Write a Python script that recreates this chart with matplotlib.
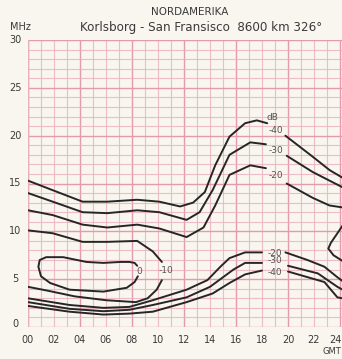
import numpy as np
import matplotlib
matplotlib.use("Agg")
import matplotlib.pyplot as plt
from matplotlib import ticker

# hours (GMT) / MHz; nan = gap where a label sits
upper_40_h = [0, 1.9, 4.2, 6.1, 8.4, 10.1, 11.7, 12.7, 13.6, 14.4, 15.5, 16.7, 17.6, 18.4, np.nan, 19.8, 21.9, 23.2, 24.2]
upper_40_f = [15.3, 14.3, 13.1, 13.1, 13.3, 13.1, 12.6, 13.0, 14.1, 16.9, 19.9, 21.3, 21.6, 21.3, np.nan, 20.0, 17.8, 16.4, 15.6]

upper_30_h = [0, 1.9, 4.2, 6.1, 8.4, 10.1, 12.2, 13.2, 14.2, 15.5, 17.1, 18.3, np.nan, 19.9, 21.9, 24.2]
upper_30_f = [14.0, 13.1, 12.0, 11.9, 12.2, 12.0, 11.2, 12.0, 14.3, 18.0, 19.3, 19.1, np.nan, 17.9, 16.2, 14.6]

upper_20_h = [0, 1.9, 4.2, 6.1, 8.4, 10.1, 12.2, 13.5, 14.4, 15.5, 17.1, 18.3, np.nan, 19.9, 21.9, 23.2, 24.2]
upper_20_f = [12.2, 11.7, 10.7, 10.4, 10.7, 10.3, 9.4, 10.4, 12.7, 15.9, 16.9, 16.6, np.nan, 15.0, 13.5, 12.7, 12.5]

minus10_h = [0, 1.9, 4.2, 6.1, 8.4, 9.6, 10.3, np.nan, 10.3, 9.9, 9.2, 8.3, 6.0, 3.6, 1.5, 0]
minus10_f = [10.1, 9.8, 8.9, 8.9, 9.0, 7.9, 6.8, np.nan, 4.9, 3.9, 3.0, 2.6, 2.8, 3.2, 3.8, 4.2]

zero_h = [8.4, 8.2, 7.8, 7.1, 5.8, 4.5, 2.7, 1.4, 0.9, 0.8, 1.0, 1.7, 3.2, 5.8, 7.6, 8.2, 8.45]
zero_f = [6.4, 6.7, 6.8, 6.8, 6.7, 6.8, 7.3, 7.3, 7.0, 6.3, 5.3, 4.6, 3.9, 3.7, 4.1, 4.7, 5.3]

lower_20_h = [0, 3.2, 5.8, 7.8, 9.6, 12.2, 13.8, 14.8, 15.5, 16.7, 18.0, np.nan, 19.8, 21.5, 22.8, 23.8, 24.2]
lower_20_f = [3.0, 2.3, 2.0, 2.1, 2.8, 3.9, 4.9, 6.3, 7.2, 7.8, 7.8, np.nan, 7.8, 7.0, 6.3, 5.2, 4.8]

lower_30_h = [0, 3.2, 5.8, 7.8, 9.6, 12.2, 14.0, 15.0, 15.8, 16.7, 18.0, np.nan, 20.0, 22.3, 23.8, 24.2]
lower_30_f = [2.6, 1.9, 1.65, 1.8, 2.3, 3.1, 4.2, 5.2, 6.0, 6.7, 6.7, np.nan, 6.4, 5.6, 4.2, 3.9]

lower_40_h = [0, 3.2, 5.8, 7.8, 9.6, 12.2, 14.2, 15.5, 16.7, 18.0, np.nan, 20.0, 22.8, 23.8, 24.2]
lower_40_f = [2.2, 1.6, 1.3, 1.4, 1.6, 2.6, 3.5, 4.6, 5.5, 5.9, np.nan, 5.8, 4.7, 3.1, 3.0]

edge_h = [24.2, 23.3, 23.1, 23.5, 24.2]
edge_f = [10.6, 8.8, 8.2, 7.5, 6.9]

contours = [
    (upper_40_h, upper_40_f), (upper_30_h, upper_30_f), (upper_20_h, upper_20_f),
    (minus10_h, minus10_f), (zero_h, zero_f),
    (lower_20_h, lower_20_f), (lower_30_h, lower_30_f), (lower_40_h, lower_40_f),
    (edge_h, edge_f),
]

# label text, hour, MHz
labels = [
    ("dB", 18.8, 21.9), ("-40", 19.1, 20.5), ("-30", 19.1, 18.5), ("-20", 19.1, 15.8),
    ("-20", 19.0, 7.7), ("-30", 19.0, 6.9), ("-40", 19.0, 5.7),
    ("0", 8.55, 5.8), ("-10", 10.6, 5.9),
]

x_ticks = list(range(0, 26, 2))
x_ticklabels = ["%02d" % h for h in x_ticks]
y_ticks = [0, 5, 10, 15, 20, 25, 30]

BG = "#f9f5ef"
PINK = "#eab0bd"
INK = "#262626"
TXT = "#3a3a3a"

fig = plt.figure(figsize=(3.42, 3.59), dpi=100, facecolor=BG)
ax = fig.add_axes([28 / 342, 32 / 359, 1 - 28 / 342, 287 / 359])
ax.set_facecolor(BG)
ax.set_xlim(0, 314 / 13)
ax.set_ylim(0, 30)

# chart paper grid
ax.xaxis.set_major_locator(ticker.MultipleLocator(4))
ax.xaxis.set_minor_locator(ticker.MultipleLocator(1))
ax.yaxis.set_major_locator(ticker.MultipleLocator(5))
ax.yaxis.set_minor_locator(ticker.MultipleLocator(1))
ax.grid(which="minor", color=PINK, lw=0.8, alpha=0.8)
ax.grid(which="major", color="#e39aac", lw=1.0)
ax.set_axisbelow(True)
for s in ax.spines.values():
    s.set_visible(False)
ax.axvline(0, color=PINK, lw=1.0)
ax.tick_params(which="both", length=0, labelbottom=False, labelleft=False)

for h, f in contours:
    ax.plot(h, f, color=INK, lw=1.4, solid_capstyle="round", clip_on=True)

for txt, h, f in labels:
    ax.text(h, f, txt, fontsize=6.5, color="#555555", ha="center", va="center")

# tick labels drawn as text so they match the scan placement
for h, lab in zip(x_ticks, x_ticklabels):
    if h == 24:
        ax.text(24.15, -1.4, lab, fontsize=7, color=TXT, ha="right", va="center", clip_on=False)
    else:
        ax.text(h, -1.4, lab, fontsize=7, color=TXT, ha="center", va="center", clip_on=False)
for f in y_ticks:
    ax.text(-1.0, f + (0.3 if f == 0 else 0), str(f), fontsize=7, color=TXT,
            ha="center", va="center", clip_on=False)
fig.text(341 / 342, 1 - 352 / 359, "GMT", fontsize=6, color=TXT, ha="right", va="center")

fig.text(190 / 342, 1 - 12 / 359, "NORDAMERIKA", fontsize=7.5, color=TXT, ha="center", va="center")
fig.text(80 / 342, 1 - 27 / 359, "Korlsborg - San Fransisco  8600 km 326°", fontsize=8.6,
         color=TXT, ha="left", va="center")
fig.text(10 / 342, 1 - 27 / 359, "MHz", fontsize=7, color=TXT, ha="left", va="center")

fig.savefig("out.png", dpi=100, facecolor=BG)
